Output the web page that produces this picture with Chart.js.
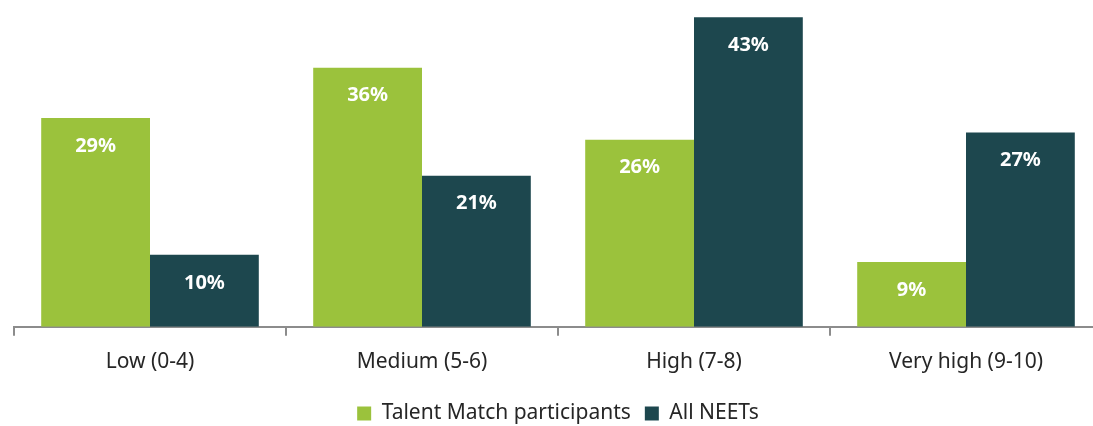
<!DOCTYPE html>
<html>
<head>
<meta charset="utf-8">
<script src="https://cdn.jsdelivr.net/npm/chart.js@4/dist/chart.umd.min.js"></script>
<style>
  html, body { margin: 0; padding: 0; background: #fff; overflow: hidden; }
  #wrap { position: relative; width: 1116px; height: 434px; }
</style>
</head>
<body>
<div id="wrap"><canvas id="chart"></canvas></div>
<script>
const categories = ["Low (0-4)", "Medium (5-6)", "High (7-8)", "Very high (9-10)"];
const talentMatch = [29, 36, 26, 9];
const allNeets = [10, 21, 43, 27];
const seriesNames = ["Talent Match participants", "All NEETs"];

const FONT = "'Noto Sans', 'Open Sans', sans-serif";

// white bold value labels just inside the top of each bar
const barLabels = {
  id: "barLabels",
  afterDatasetsDraw(chart) {
    const ctx = chart.ctx;
    ctx.save();
    ctx.fillStyle = "#ffffff";
    ctx.font = "bold 20px " + FONT;
    ctx.textAlign = "center";
    ctx.textBaseline = "middle";
    chart.data.datasets.forEach((ds, i) => {
      chart.getDatasetMeta(i).data.forEach((bar, j) => {
        ctx.fillText(ds.data[j] + "%", bar.x, bar.y + 28);
      });
    });
    ctx.restore();
  },
};

new Chart(document.getElementById("chart"), {
  type: "bar",
  data: {
    labels: categories,
    datasets: [
      { label: seriesNames[0], data: talentMatch, backgroundColor: "#9bc23c" },
      { label: seriesNames[1], data: allNeets, backgroundColor: "#1d474e" },
    ],
  },
  options: {
    responsive: true,
    maintainAspectRatio: false,
    animation: false,
    layout: { padding: { left: 14, right: 14, top: 0, bottom: 0 } },
    datasets: { bar: { categoryPercentage: 0.8, barPercentage: 1.0 } },
    plugins: {
      legend: {
        position: "bottom",
        labels: {
          color: "#262626",
          font: { family: FONT, size: 21 },
          boxWidth: 14,
          boxHeight: 14,
          padding: 14,
        },
      },
      tooltip: { enabled: false },
    },
    scales: {
      x: {
        offset: true,
        grid: { offset: true, drawOnChartArea: false, drawTicks: true, tickLength: 9, color: "#8c8c8c", lineWidth: 2 },
        border: { color: "#8c8c8c", width: 2 },
        ticks: { color: "#262626", font: { family: FONT, size: 21 }, padding: 14 },
      },
      y: {
        display: false,
        min: 0,
        max: 45.4,
      },
    },
  },
  plugins: [barLabels],
});
</script>
</body>
</html>
